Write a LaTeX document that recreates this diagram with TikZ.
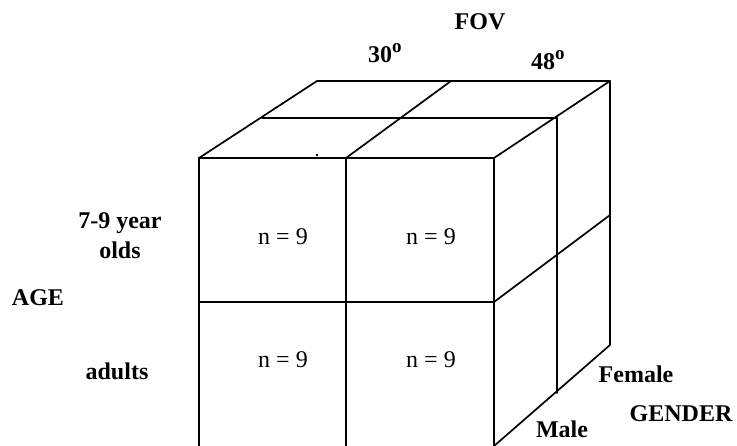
\documentclass[tikz,border=0pt]{standalone}
\usepackage{fontspec}
\setmainfont{Liberation Serif}
\newcommand{\degsup}{\raisebox{10.5pt}{\fontsize{19}{19}\selectfont\bfseries o}}
\begin{document}
\begin{tikzpicture}[x=1pt,y=-1pt,
  edge/.style={line width=1.7pt, line cap=round, line join=round},
  lbl/.style={font=\fontsize{24}{30}\selectfont\bfseries, inner sep=0pt, anchor=base},
  cnt/.style={font=\fontsize{24}{30}\selectfont, inner sep=0pt, anchor=base}]
\useasboundingbox (0,0) rectangle (737,446);
% front face
\coordinate (FTL) at (199,158);
\coordinate (FTM) at (346,158);
\coordinate (FTR) at (494,158);
\coordinate (FML) at (199,302);
\coordinate (FMR) at (494,302);
\coordinate (FBL) at (199,446);
\coordinate (FBM) at (346,446);
\coordinate (FBR) at (494,446);
% top face
\coordinate (TBL) at (317,81);
\coordinate (TBM) at (451,81);
\coordinate (TBR) at (610,81);
\coordinate (TML) at (262,118);
\coordinate (TMR) at (557,118);
% side face
\coordinate (SBB) at (610,345);
\coordinate (SMB) at (557,393);
\coordinate (SMM) at (610,215);
\draw[edge] (FBL) -- (FTL) -- (FTR) -- (FBR);
\draw[edge] (FTM) -- (FBM);
\draw[edge] (FML) -- (FMR);
\draw[edge] (FTL) -- (TBL) -- (TBR) -- (FTR);
\draw[edge] (TML) -- (TMR);
\draw[edge] (FTM) -- (TBM);
\draw[edge] (TBR) -- (SBB) -- (FBR);
\draw[edge] (TMR) -- (SMB);
\draw[edge] (FMR) -- (SMM);
\fill (315.8,154) rectangle (318.2,156.4);
% labels
\node[lbl] (fov) at (480,30) {FOV};
\node[lbl, anchor=base west] (f30) at (368,63) {30\degsup};
\node[lbl, anchor=base west] (f48) at (531,70) {48\degsup};
\node[lbl, anchor=center, align=center] (young) at (120,236) {7-9 year\\olds};
\node[lbl] (age) at (38,306) {AGE};
\node[lbl] (adults) at (117,380) {adults};
\node[cnt] (n11) at (283,245) {n = 9};
\node[cnt] (n12) at (431,245) {n = 9};
\node[cnt] (n21) at (283,368) {n = 9};
\node[cnt] (n22) at (431,368) {n = 9};
\node[lbl] (female) at (636,383) {Female};
\node[lbl] (gender) at (681,422) {GENDER};
\node[lbl] (male) at (562,438) {Male};
\end{tikzpicture}
\end{document}
